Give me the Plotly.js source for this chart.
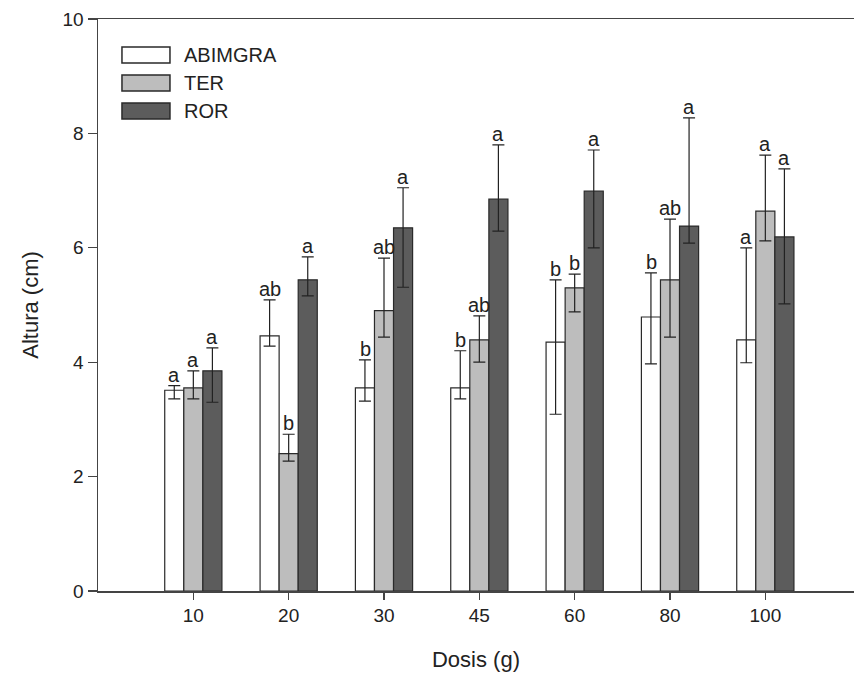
<!DOCTYPE html>
<html>
<head>
<meta charset="utf-8">
<script src="https://cdn.plot.ly/plotly-3.0.1.min.js"></script>
<style>html,body{margin:0;padding:0;background:#fff;}#chart{width:854px;height:684px;}</style>
</head>
<body>
<div id="chart"></div>
<script>
// Categories (dose, g)
const doses = ["10", "20", "30", "45", "60", "80", "100"];
const seriesNames = ["ABIMGRA", "TER", "ROR"];

// Mean height (cm)
const abimgraMean = [3.51, 4.46, 3.55, 3.55, 4.35, 4.79, 4.39];
const terMean     = [3.55, 2.40, 4.90, 4.39, 5.30, 5.44, 6.64];
const rorMean     = [3.85, 5.44, 6.35, 6.85, 6.99, 6.38, 6.19];

// Upper error (cm)
const abimgraErrUp = [0.08, 0.63, 0.49, 0.65, 1.09, 0.77, 1.61];
const terErrUp     = [0.30, 0.34, 0.92, 0.42, 0.24, 1.06, 0.98];
const rorErrUp     = [0.40, 0.40, 0.70, 0.95, 0.72, 1.89, 1.19];

// Lower error (cm)
const abimgraErrDown = [0.15, 0.18, 0.23, 0.19, 1.26, 0.82, 0.40];
const terErrDown     = [0.19, 0.13, 0.46, 0.39, 0.42, 1.00, 0.52];
const rorErrDown     = [0.55, 0.28, 1.04, 0.56, 0.99, 0.30, 1.17];

// Significance letters
const abimgraLetters = ["a", "ab", "b", "b", "b", "b", "a"];
const terLetters     = ["a", "b", "ab", "ab", "b", "ab", "a"];
const rorLetters     = ["a", "a", "a", "a", "a", "a", "a"];

const means = [abimgraMean, terMean, rorMean];
const errUp = [abimgraErrUp, terErrUp, rorErrUp];
const errDown = [abimgraErrDown, terErrDown, rorErrDown];
const letters = [abimgraLetters, terLetters, rorLetters];
const fills = ["#ffffff", "#bdbdbd", "#5c5c5c"];

const traces = seriesNames.map((name, i) => ({
  type: "bar",
  name: name,
  x: doses,
  y: means[i],
  marker: {color: fills[i], line: {color: "#2a2a2a", width: 1.2}},
  error_y: {
    type: "data", symmetric: false,
    array: errUp[i], arrayminus: errDown[i],
    color: "#222", thickness: 1.2, width: 6
  },
  showlegend: false,
  hoverinfo: "x+y"
}));

const barPx = 19;
const annotations = [];
seriesNames.forEach((name, i) => {
  doses.forEach((d, j) => {
    annotations.push({
      x: j, y: means[i][j] + errUp[i][j],
      xref: "x", yref: "y",
      text: letters[i][j], showarrow: false,
      xshift: (i - 1) * barPx, yshift: -2,
      yanchor: "bottom", xanchor: "center",
      font: {family: "Liberation Sans, Arial, sans-serif", size: 20, color: "#222"}
    });
  });
});

// Legend (drawn as boxes + labels)
const shapes = [];
const legTop = [0.951, 0.902, 0.853];
seriesNames.forEach((name, i) => {
  shapes.push({
    type: "rect", xref: "paper", yref: "paper",
    x0: 0.0317, x1: 0.0952, y0: legTop[i] - 0.028, y1: legTop[i],
    fillcolor: fills[i], line: {color: "#2a2a2a", width: 1.5}
  });
  annotations.push({
    xref: "paper", yref: "paper", x: 0.111, y: legTop[i] - 0.014,
    xanchor: "left", yanchor: "middle", showarrow: false,
    text: name,
    font: {family: "Liberation Sans, Arial, sans-serif", size: 20, color: "#222"}
  });
});

const layout = {
  width: 854, height: 684,
  margin: {l: 98, r: 0, t: 19, b: 93},
  paper_bgcolor: "#ffffff", plot_bgcolor: "#ffffff",
  font: {family: "Liberation Sans, Arial, sans-serif", size: 19, color: "#222"},
  barmode: "group", bargap: 0.4, bargroupgap: 0,
  xaxis: {
    type: "category", range: [-1.0, 6.93],
    showgrid: false, zeroline: false,
    showline: true, linecolor: "#444", linewidth: 1.5, mirror: true,
    ticks: "outside", ticklen: 7, tickwidth: 1.2, tickcolor: "#444",
    tickfont: {size: 19},
    title: {text: "Dosis (g)", font: {size: 22}, standoff: 26}
  },
  yaxis: {
    range: [0, 10], dtick: 2, tick0: 0,
    showgrid: false, zeroline: false,
    showline: true, linecolor: "#444", linewidth: 1.5,
    ticks: "outside", ticklen: 9, tickwidth: 1.2, tickcolor: "#444",
    tickfont: {size: 19},
    title: {text: "Altura (cm)", font: {size: 22}, standoff: 18}
  },
  annotations: annotations,
  shapes: shapes,
  showlegend: false
};

Plotly.newPlot("chart", traces, layout, {displayModeBar: false, staticPlot: true});
</script>
</body>
</html>
